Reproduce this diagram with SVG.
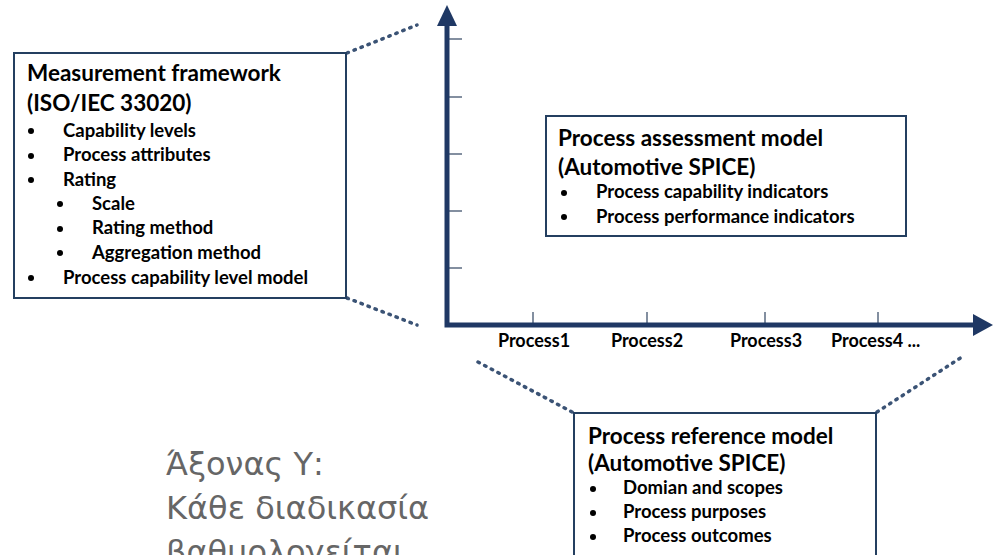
<svg xmlns="http://www.w3.org/2000/svg" width="994" height="555" viewBox="0 0 994 555">
<style>
  .box { fill: #ffffff; stroke: #243f60; stroke-width: 2; }
  .title { font-family: Lato, "Liberation Sans", sans-serif; font-weight: bold; font-size: 22.5px; fill: #000; }
  .item { font-family: Lato, "Liberation Sans", sans-serif; font-weight: bold; font-size: 18.5px; fill: #000; }
  .proc { font-family: Lato, "Liberation Sans", sans-serif; font-weight: bold; font-size: 18px; fill: #000; }
  .bul { fill: #000; }
  .axis { stroke: #1f3864; stroke-width: 5; fill: none; }
  .tick { stroke: #5a6a80; stroke-width: 1.5; }
  .dots { stroke: #3b5375; stroke-width: 3.5; stroke-linecap: round; stroke-dasharray: 1.5 6; fill: none; }
  .greek { font-family: "DejaVu Sans", Verdana, sans-serif; font-size: 32px; fill: #666666; }
</style>
<rect width="994" height="555" fill="#ffffff"/>

<g id="connectors">
  <line class="dots" x1="347" y1="53" x2="417" y2="25"/>
  <line class="dots" x1="347" y1="298" x2="417" y2="325"/>
  <line class="dots" x1="478" y1="362" x2="574" y2="413"/>
  <line class="dots" x1="877" y1="412" x2="965" y2="355"/>
</g>

<g id="axes">
  <line class="tick" x1="447" y1="39" x2="462" y2="39"/>
  <line class="tick" x1="447" y1="97" x2="462" y2="97"/>
  <line class="tick" x1="447" y1="154" x2="462" y2="154"/>
  <line class="tick" x1="447" y1="211" x2="462" y2="211"/>
  <line class="tick" x1="447" y1="268" x2="462" y2="268"/>
  <line class="tick" x1="533" y1="312" x2="533" y2="325"/>
  <line class="tick" x1="647" y1="312" x2="647" y2="325"/>
  <line class="tick" x1="765" y1="312" x2="765" y2="325"/>
  <line class="tick" x1="878" y1="312" x2="878" y2="325"/>
  <polyline class="axis" points="447,22 447,325 976,325" />
  <path d="M447,5 L437,26 L457,26 z" fill="#1f3864"/>
  <path d="M993,325 L973,314 L973,336 z" fill="#1f3864"/>
  <text class="proc" x="534" y="347" text-anchor="middle">Process1</text>
  <text class="proc" x="647" y="347" text-anchor="middle">Process2</text>
  <text class="proc" x="766" y="347" text-anchor="middle">Process3</text>
  <text class="proc" x="831" y="347">Process4 ...</text>
</g>

<g id="measurement-framework">
  <rect class="box" x="14" y="53" width="332" height="245"/>
  <text class="title" x="27" y="81">Measurement framework</text>
  <text class="title" x="27" y="111">(ISO/IEC 33020)</text>
  <circle class="bul" cx="31" cy="131" r="3"/>
  <text class="item" x="63" y="137">Capability levels</text>
  <circle class="bul" cx="31" cy="156" r="3"/>
  <text class="item" x="63" y="161">Process attributes</text>
  <circle class="bul" cx="31" cy="180" r="3"/>
  <text class="item" x="63" y="186">Rating</text>
  <circle class="bul" cx="60" cy="204" r="3"/>
  <text class="item" x="92" y="210">Scale</text>
  <circle class="bul" cx="60" cy="229" r="3"/>
  <text class="item" x="92" y="234">Rating method</text>
  <circle class="bul" cx="60" cy="253" r="3"/>
  <text class="item" x="92" y="259">Aggregation method</text>
  <circle class="bul" cx="31" cy="278" r="3"/>
  <text class="item" x="63" y="284">Process capability level model</text>
</g>

<g id="process-assessment-model">
  <rect class="box" x="546" y="116" width="360" height="120"/>
  <text class="title" x="558" y="146">Process assessment model</text>
  <text class="title" x="558" y="175">(Automotive SPICE)</text>
  <circle class="bul" cx="564" cy="193" r="3"/>
  <text class="item" x="596" y="198">Process capability indicators</text>
  <circle class="bul" cx="564" cy="217" r="3"/>
  <text class="item" x="596" y="223">Process performance indicators</text>
</g>

<g id="process-reference-model">
  <rect class="box" x="574" y="413" width="302" height="150"/>
  <text class="title" x="588" y="444">Process reference model</text>
  <text class="title" x="588" y="471">(Automotive SPICE)</text>
  <circle class="bul" cx="593" cy="489" r="3"/>
  <text class="item" x="623" y="494">Domian and scopes</text>
  <circle class="bul" cx="593" cy="513" r="3"/>
  <text class="item" x="623" y="518">Process purposes</text>
  <circle class="bul" cx="593" cy="537" r="3"/>
  <text class="item" x="623" y="542">Process outcomes</text>
</g>

<g id="y-axis-note">
  <text class="greek" x="166" y="475">Άξονας Υ:</text>
  <text class="greek" x="166" y="519">Κάθε διαδικασία</text>
  <text class="greek" x="166" y="563">βαθμολογείται</text>
</g>
</svg>
